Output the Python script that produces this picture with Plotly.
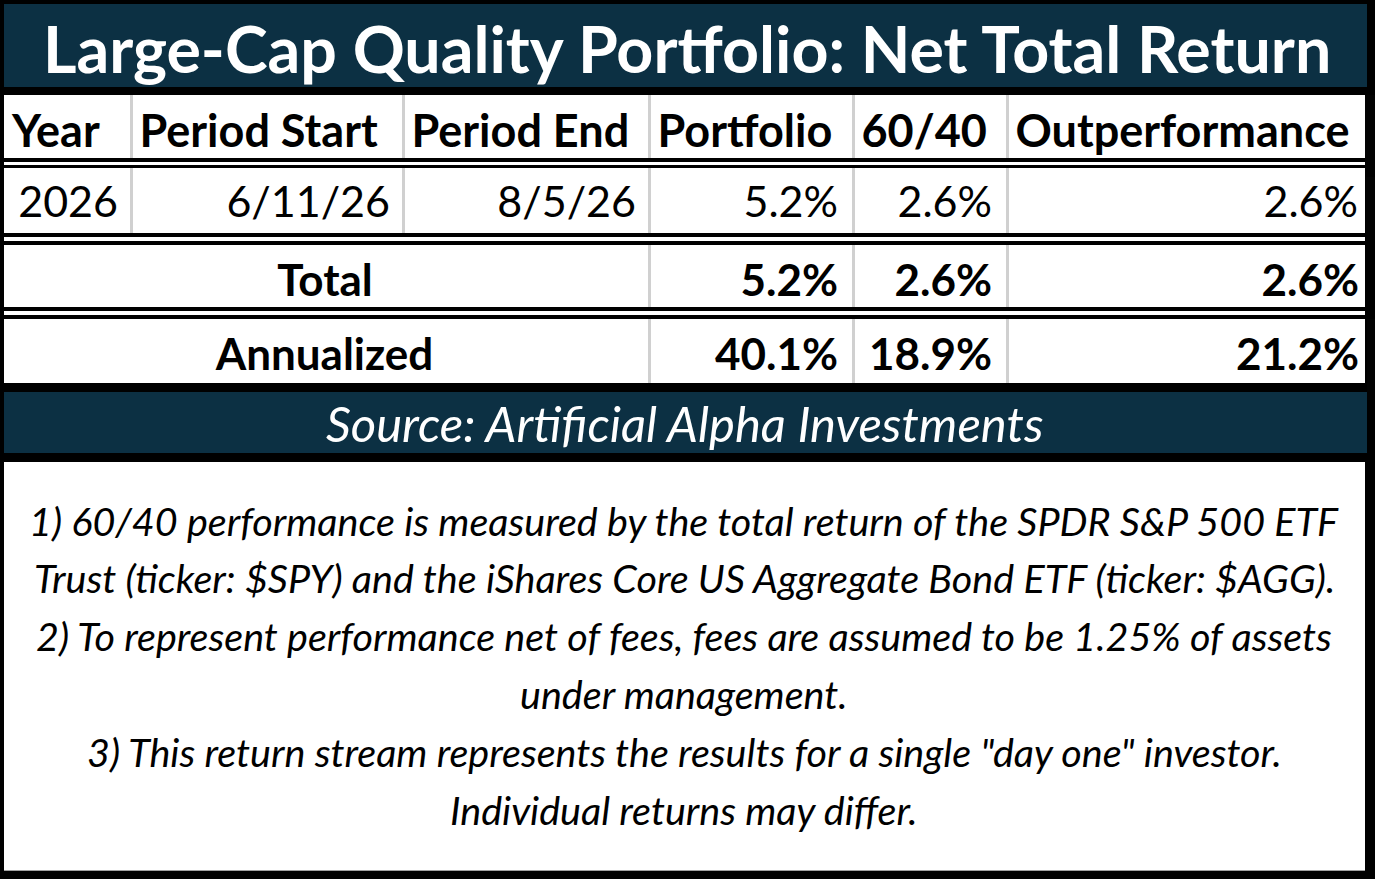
import plotly.graph_objects as go

W, H = 1375, 879

title = "Large-Cap Quality Portfolio: Net Total Return"
source = "Source: Artificial Alpha Investments"

columns = ["Year", "Period Start", "Period End", "Portfolio", "60/40", "Outperformance"]
years = ["2026"]
period_starts = ["6/11/26"]
period_ends = ["8/5/26"]
portfolio = [5.2]
sixty_forty = [2.6]
outperformance = [2.6]

summary_labels = ["Total", "Annualized"]
summary_portfolio = [5.2, 40.1]
summary_sixty_forty = [2.6, 18.9]
summary_outperformance = [2.6, 21.2]

notes = [
    "1) 60/40 performance is measured by the total return of the SPDR S&P 500 ETF",
    "Trust (ticker: $SPY) and the iShares Core US Aggregate Bond ETF (ticker: $AGG).",
    "2) To represent performance net of fees, fees are assumed to be 1.25% of assets",
    "under management.",
    '3) This return stream represents the results for a single "day one" investor.',
    "Individual returns may differ.",
]

NAVY = "#0c3043"
GRID = "#d0d0d0"
CLEAR = "rgba(0,0,0,0)"
FONT = "Lato"

# pixel layout of the grid (cell borders)
col_edges = [4, 131.5, 403.5, 649.5, 853.5, 1007.5, 1365]
rows = [(95, 158), (168, 233), (245, 307), (319, 383)]   # white row bands
# right-aligned text sits a little further in than the borders
data_edges = [4, 126, 398, 644, 846, 1000, 1366]
summary_edges = [4, 646, 846, 1000, 1367]


def widths(edges):
    return [b - a for a, b in zip(edges[:-1], edges[1:])]


def px_x(x):
    return x / W


def px_y(y):
    return 1 - y / H


def pct(vals):
    return [f"{v:.1f}%" for v in vals]


def bold(vals):
    return [f"<b>{v}</b>" for v in vals]


def rect(x0, y0, x1, y1, color):
    return dict(type="rect", xref="paper", yref="paper", layer="below",
                x0=px_x(x0), x1=px_x(x1), y0=px_y(y1), y1=px_y(y0),
                fillcolor=color, line=dict(width=0))


def text_table(edges, top, bottom, header, cells, align, size, header_h, cell_h):
    return go.Table(
        domain=dict(x=[px_x(edges[0]), px_x(edges[-1])], y=[px_y(bottom), px_y(top)]),
        columnwidth=widths(edges),
        header=dict(values=header, height=header_h, align=align,
                    fill_color=CLEAR, line=dict(width=0),
                    font=dict(family=FONT, size=size, color="black")),
        cells=dict(values=cells, height=cell_h, align=align,
                   fill_color=CLEAR, line=dict(width=0),
                   font=dict(family=FONT, size=size, color="black")),
    )


fig = go.Figure()

# column titles
fig.add_trace(text_table(col_edges, 95, 170, bold(columns), [], "left", 45, 73, 20))

# yearly rows
fig.add_trace(text_table(data_edges, 161, 240, [],
                         [years, period_starts, period_ends, pct(portfolio),
                          pct(sixty_forty), pct(outperformance)],
                         "right", 43, 0, 65))

# summary rows (first row rides in the header slot)
summary = [bold([summary_labels[i], pct(summary_portfolio)[i], pct(summary_sixty_forty)[i],
                 pct(summary_outperformance)[i]]) for i in range(len(summary_labels))]
fig.add_trace(text_table(summary_edges, 245, 400, summary[0],
                         [[r[j] for r in summary[1:]] for j in range(4)],
                         ["center", "right", "right", "right"], 44, 74, 74))

shapes = [
    rect(4, 4, 1367, 87, NAVY),
    rect(4, 392, 1367, 453, NAVY),
    rect(4, 462, 1365, 870, "white"),
    rect(4, 870, 1365, 871, "#a0a0a0"),
]
for y0, y1 in rows:
    shapes.append(rect(4, y0, 1365, y1, "white"))
for y0, y1 in [(162, 165), (237, 241), (311, 315)]:
    shapes.append(rect(4, y0, 1365, y1, "white"))
for x in col_edges[1:-1]:
    shapes.append(rect(x - 1.5, 95, x + 1.5, 158, GRID))
    shapes.append(rect(x - 1.5, 168, x + 1.5, 233, GRID))
for x in col_edges[3:-1]:
    shapes.append(rect(x - 1.5, 245, x + 1.5, 307, GRID))
    shapes.append(rect(x - 1.5, 319, x + 1.5, 383, GRID))

annotations = [
    dict(text=f"<b>{title}</b>", x=px_x(687), y=px_y(48), xref="paper", yref="paper",
         xanchor="center", yanchor="middle", showarrow=False,
         font=dict(family=FONT, size=64.5, color="white")),
    dict(text=f"<i>{source}</i>", x=px_x(684), y=px_y(423), xref="paper", yref="paper",
         xanchor="center", yanchor="middle", showarrow=False,
         font=dict(family=FONT, size=49, color="white")),
]
for i, line in enumerate(notes):
    annotations.append(dict(text=f"<i>{line}</i>", x=px_x(684), y=px_y(520 + i * 57.8),
                            xref="paper", yref="paper", xanchor="center", yanchor="middle",
                            showarrow=False, font=dict(family=FONT, size=39.5, color="black")))

fig.update_layout(
    width=W, height=H,
    margin=dict(l=0, r=0, t=0, b=0),
    paper_bgcolor="black", plot_bgcolor="black",
    shapes=shapes, annotations=annotations,
    showlegend=False,
)

fig.write_html("out.html", config={"displayModeBar": False},
               post_script="document.body.style.margin = '0';")
